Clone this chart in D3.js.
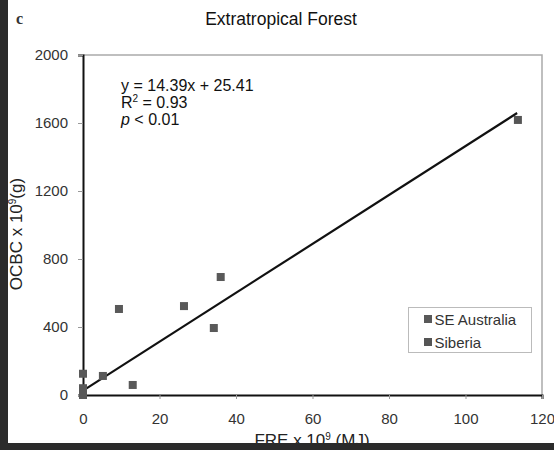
<!DOCTYPE html>
<html><head><meta charset="utf-8">
<script src="https://cdn.jsdelivr.net/npm/d3@7"></script>
<style>body{margin:0;background:#fff}svg{display:block}</style>
</head><body>
<script>
const xTicks = [0,20,40,60,80,100,120];
const yTicks = [0,400,800,1200,1600,2000];
const seAustraliaX = [0, 0, 0, 0, 5.2, 9.4, 13, 26.4, 34.2, 36];
const seAustraliaY = [0, 10, 40, 125, 112, 506, 59, 523, 394, 694];
const siberiaX = [113.7];
const siberiaY = [1618];
const slope = 14.39, intercept = 25.41;
const fitRange = [0, 113.5];
const legendLabels = ["SE Australia", "Siberia"];

const W = 554, H = 450;
const svg = d3.select("body").append("svg").attr("width", W).attr("height", H);
const font = "Liberation Sans, Arial, sans-serif";

const x = d3.scaleLinear().domain([0,120]).range([83,542]);
const y = d3.scaleLinear().domain([0,2000]).range([395,55]);

// plot frame (gray top/right)
svg.append("path").attr("d", `M${x(0)},${y(2000)}H${x(120)}V${y(0)}`)
  .attr("fill","none").attr("stroke","#aaa").attr("stroke-width",1.5);

// y axis
const yAx = svg.append("g").attr("transform",`translate(${x(0)},0)`)
  .call(d3.axisLeft(y).tickValues(yTicks).tickSize(5).tickPadding(10).tickFormat(d3.format("d")));
yAx.select(".domain").attr("stroke","#111").attr("stroke-width",2);
yAx.selectAll(".tick line").attr("stroke","#999");
yAx.selectAll("text").attr("font-family",font).attr("font-size",15).attr("fill","#333");

// x axis
const xAx = svg.append("g").attr("transform",`translate(0,${y(0)})`)
  .call(d3.axisBottom(x).tickValues(xTicks).tickSize(4).tickPadding(14));
xAx.select(".domain").attr("stroke","#111").attr("stroke-width",2);
xAx.selectAll(".tick line").attr("stroke","#999");
xAx.selectAll("text").attr("font-family",font).attr("font-size",15).attr("fill","#333");

// fit line
svg.append("line")
  .attr("x1",x(fitRange[0])).attr("y1",y(slope*fitRange[0]+intercept))
  .attr("x2",x(fitRange[1])).attr("y2",y(slope*fitRange[1]+intercept))
  .attr("stroke","#111").attr("stroke-width",2.2);

// points
const sq = 8;
const pts = seAustraliaX.map((v,i)=>({x:v,y:seAustraliaY[i],s:0}))
  .concat(siberiaX.map((v,i)=>({x:v,y:siberiaY[i],s:1})));
svg.selectAll("rect.pt").data(pts).enter().append("rect")
  .attr("x",d=>x(d.x)-sq/2).attr("y",d=>y(d.y)-sq/2)
  .attr("width",sq).attr("height",sq)
  .attr("fill",d=>d.s? "#555":"#595959");

// equation text
const eq = svg.append("g").attr("font-family",font).attr("font-size",16).attr("fill","#111");
eq.append("text").attr("x",121).attr("y",91).text("y = 14.39x + 25.41");
const r2 = eq.append("text").attr("x",121).attr("y",108);
r2.append("tspan").text("R");
r2.append("tspan").text("2").attr("font-size",10).attr("dy",-6);
r2.append("tspan").text(" = 0.93").attr("dy",6);
const pt = eq.append("text").attr("x",121).attr("y",125);
pt.append("tspan").text("p").attr("font-style","italic");
pt.append("tspan").text(" < 0.01");

// title
svg.append("text").attr("x",281).attr("y",25).attr("text-anchor","middle")
  .attr("font-family",font).attr("font-size",17.5).attr("fill","#111").text("Extratropical Forest");
svg.append("text").attr("x",16).attr("y",24)
  .attr("font-family","Liberation Serif, Times New Roman, serif").attr("font-size",16).attr("font-weight","bold").attr("fill","#333").text("c");

// axis titles
const xt = svg.append("text").attr("x",312).attr("y",446).attr("text-anchor","middle")
  .attr("font-family",font).attr("font-size",17).attr("fill","#222");
xt.append("tspan").text("FRE x 10");
xt.append("tspan").text("9").attr("font-size",10).attr("dy",-6);
xt.append("tspan").text(" (MJ)").attr("dy",6);

const yt = svg.append("text").attr("transform","translate(22,234) rotate(-90)").attr("text-anchor","middle")
  .attr("font-family",font).attr("font-size",17).attr("fill","#222");
yt.append("tspan").text("OCBC x 10");
yt.append("tspan").text("9").attr("font-size",10).attr("dy",-6);
yt.append("tspan").text("(g)").attr("dy",6);

// legend
const lg = svg.append("g");
lg.append("rect").attr("x",408.5).attr("y",307.5).attr("width",123).attr("height",45)
  .attr("fill","#fff").attr("stroke","#bbb");
legendLabels.forEach((t,i)=>{
  const yy = 319 + i*23;
  lg.append("rect").attr("x",424).attr("y",yy-4).attr("width",8).attr("height",8).attr("fill",i?"#555":"#595959");
  lg.append("text").attr("x",434.5).attr("y",yy+5.5).attr("font-family",font).attr("font-size",15).attr("fill","#333").text(t);
});

// dark borders (scan edge)
svg.append("rect").attr("x",0).attr("y",0).attr("width",8).attr("height",H).attr("fill","#2b2b2b");
svg.append("rect").attr("x",0).attr("y",443).attr("width",W).attr("height",7).attr("fill","#2b2b2b");
</script>
</body></html>
